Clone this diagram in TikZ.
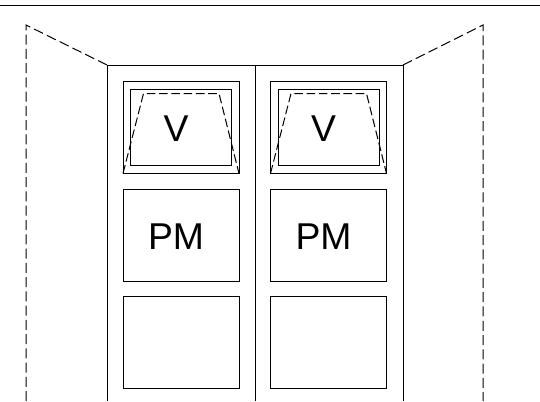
\documentclass[tikz,border=0pt]{standalone}
\usepackage{fontspec}
\setmainfont{Liberation Sans}
\begin{document}
\begin{tikzpicture}[
x=0.75pt,y=-0.75pt,
line width=0.75pt,
mypane/.style={
  draw,
  inner sep=0pt,
  outer sep=0pt,
  minimum width=87pt,
  minimum height=69pt
  },
myinner/.style={
  draw,
  inner sep=0pt,
  outer sep=0pt,
  minimum width=76pt,
  minimum height=57pt
  },
mylabel/.style={
  inner sep=0pt,
  font=\fontsize{28}{28}\selectfont
  },
wall/.style={dash pattern=on 7.5pt off 3.2pt},
sash/.style={dash pattern=on 6.5pt off 2.7pt}
]
\useasboundingbox (0,0) rectangle (540,401);
\coordinate (ruleL) at (0,5);
\coordinate (ruleR) at (540,5);
\draw (ruleL) -- (ruleR);
\coordinate (frameNW) at (107,65);
\coordinate (frameN) at (255,65);
\coordinate (frameNE) at (403,65);
\coordinate (frameSW) at (107,401);
\coordinate (frameS) at (255,401);
\coordinate (frameSE) at (403,401);
\coordinate (wallNW) at (26,25);
\coordinate (wallSW) at (26,401);
\coordinate (wallNE) at (483,25);
\coordinate (wallSE) at (483,401);
\draw (frameSW) -- (frameNW) -- (frameNE) -- (frameSE);
\draw (frameN) -- (frameS);
\draw[wall] (frameNW) -- (wallNW) -- (wallSW);
\draw[wall] (frameNE) -- (wallNE) -- (wallSE);
\foreach \Value/\Shift in {1/0,2/147.5}
{
  \node[mypane] (top\Value) at (181+\Shift,127.5) {};
  \node[myinner] (inner\Value) at (181.2+\Shift,127) {};
  \node[mypane] (mid\Value) at (181+\Shift,235) {};
  \node[mypane] (low\Value) at (181+\Shift,342.5) {};
  \node[mylabel] (v\Value) at (176+\Shift,129) {V};
  \node[mylabel] (pm\Value) at (176+\Shift,237) {PM};
  \coordinate (sashL\Value) at (143.5+\Shift,93.5);
  \coordinate (sashR\Value) at (219+\Shift,93.5);
  \draw[sash] (top\Value.south west) -- (sashL\Value) -- (sashR\Value) -- (top\Value.south east);
}
\end{tikzpicture}
\end{document}
